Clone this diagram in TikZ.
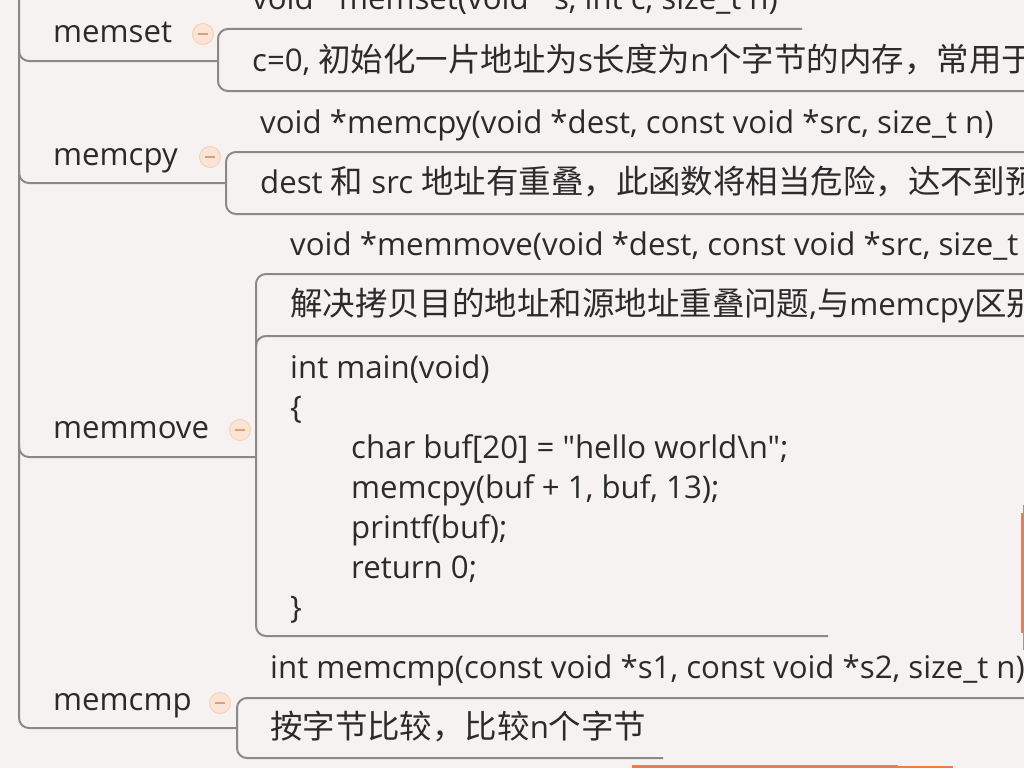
\documentclass[tikz,border=0pt]{standalone}
\usepackage{fontspec}
\newfontfamily\uifont{Open Sans}
\newfontfamily\cjk[Scale=1.04]{Noto Sans CJK SC}
\definecolor{bg}{HTML}{F7F2F2}
\definecolor{ln}{HTML}{8A8888}
\definecolor{txt}{HTML}{2B2B2B}
\definecolor{orng}{HTML}{EF7D4A}
\definecolor{cfill}{HTML}{FCE4D4}
\definecolor{cedge}{HTML}{F8D2B6}
\definecolor{cmin}{HTML}{D8A07E}
\begin{document}
\begin{tikzpicture}[x=1pt,y=-1pt,
  lbl/.style={anchor=base west, inner sep=0pt, text=txt, font=\uifont\fontsize{31.2}{36}\selectfont},
  conn/.style={draw=ln, line width=2pt, rounded corners=10pt},
  collapse/.style={circle, fill=cfill, draw=cedge, line width=1pt, minimum size=21pt, inner sep=0pt},
  minus/.style={draw=cmin, line width=1.6pt},
  sel/.style={draw=orng}]
\fill[bg] (0,0) rectangle (1024,768);
\useasboundingbox (0,0) rectangle (1024,768);
\clip (0,0) rectangle (1024,768);

% ---------- topics ----------
\node[lbl] (memset)  at (53,43)  {memset};
\node[lbl] (memcpy)  at (53,165) {memcpy};
\node[lbl] (memmove) at (53,438) {memmove};
\node[lbl] (memcmp)  at (53,710) {memcmp};

% ---------- collapse buttons ----------
\node[collapse] (b1) at (203,34)  {};
\node[collapse] (b2) at (210,157) {};
\node[collapse] (b3) at (240,430) {};
\node[collapse] (b4) at (220,703) {};
\foreach \b in {b1,b2,b3,b4}{\draw[minus] (\b.center) ++(-5,0) -- ++(10,0);}

% ---------- children ----------
\node[lbl] (s1) at (252,10) {void *memset(void *s, int c, size\_t n)};
\node[lbl] (s2) at (252,71) {c=0, {\cjk 初始化一片地址为}s{\cjk 长度为}n{\cjk 个字节的内存，常用于}};
\node[lbl] (p1) at (260,133) {void *memcpy(void *dest, const void *src, size\_t n)};
\node[lbl] (p2) at (260,193) {dest {\cjk 和} src {\cjk 地址有重叠，此函数将相当危险，达不到预}};
\node[lbl] (v1) at (290,255) {void *memmove(void *dest, const void *src, size\_t n)};
\node[lbl] (v2) at (290,315) {{\cjk 解决拷贝目的地址和源地址重叠问题},{\cjk 与}memcpy{\cjk 区别}};
\node[lbl] (k1) at (290,378) {int main(void)};
\node[lbl] (k2) at (290,418) {\{};
\node[lbl] (k3) at (351,458) {char buf[20] = "hello world\textbackslash n";};
\node[lbl] (k4) at (351,498) {memcpy(buf + 1, buf, 13);};
\node[lbl] (k5) at (351,538) {printf(buf);};
\node[lbl] (k6) at (351,578) {return 0;};
\node[lbl] (k7) at (290,618) {\}};
\node[lbl] (c1) at (270,678) {int memcmp(const void *s1, const void *s2, size\_t n)};
\node[lbl] (c2) at (270,738) {{\cjk 按字节比较，比较}n{\cjk 个字节}};

% ---------- connector coordinates ----------
\coordinate (tTop) at (19,-10);
\coordinate (tEnd) at (19,728);
\coordinate (jS) at (218,61);
\coordinate (jP) at (226,183);
\coordinate (jV) at (256,457);
\coordinate (jC) at (237,728);

% trunk + memcmp branch
\draw[conn] (tTop) -- (tEnd) -- (jC);
% other branches
\draw[conn] (19,49)  -- (19,61)  -- (jS);
\draw[conn] (19,171) -- (19,183) -- (jP);
\draw[conn] (19,445) -- (19,457) -- (jV);

% brackets with child underlines
\draw[conn] (802,29) -- (218,29) -- (218,91) -- (1040,91);
\draw[conn] (1040,152) -- (226,152) -- (226,214) -- (1040,214);
\draw[conn] (1040,274) -- (256,274) -- (256,636) -- (828,636);
\draw[conn] (256,348) -- (256,336) -- (1040,336);
\draw[conn] (1040,698) -- (237,698) -- (237,758) -- (663,758);

% selection highlights at the edges
\draw[sel, line width=3pt] (1022.5,513) -- (1022.5,633);
\draw[sel, line width=1pt] (1023.5,505) -- (1023.5,650);
\draw[sel, line width=3pt] (632,766.5) -- (898,766.5);
\draw[sel, line width=1.5pt] (898,767.2) -- (953,767.2);
\end{tikzpicture}
\end{document}
